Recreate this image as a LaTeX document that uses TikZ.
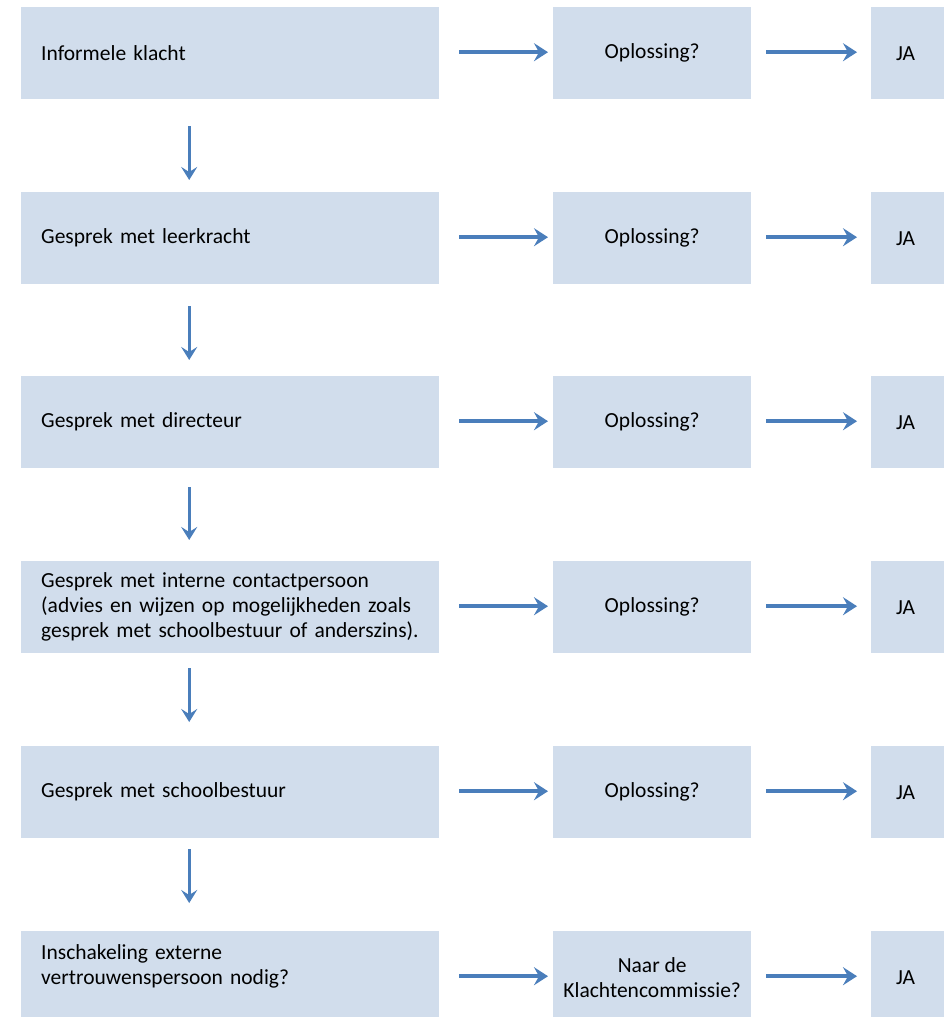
\documentclass[tikz,border=0pt]{standalone}
\usepackage{fontspec}
\setmainfont{Carlito}
\usetikzlibrary{arrows.meta}
\definecolor{boxfill}{RGB}{209,221,236}
\definecolor{arrowblue}{RGB}{74,126,187}
\definecolor{arrowshade}{RGB}{200,205,212}
\begin{document}
\begin{tikzpicture}[x=1pt,y=-1pt,
  every node/.style={font=\fontsize{21.5}{25}\selectfont, text=black},
  leftbox/.style={fill=boxfill, draw=none, anchor=north west, minimum height=92pt,
    text width=378pt, inner xsep=20pt, inner ysep=0pt, align=left},
  midbox/.style={fill=boxfill, draw=none, anchor=north west, minimum height=92pt,
    minimum width=198pt, inner sep=0pt, align=center},
  jabox/.style={fill=boxfill, draw=none, anchor=north west, minimum height=92pt,
    text width=150pt, inner xsep=25pt, inner ysep=0pt, align=left},
  flowarrow/.style={draw=arrowblue, line width=4.2pt,
    -{Stealth[length=14pt, width=18pt, inset=5pt]}},
  downarrow/.style={draw=arrowblue, line width=3.2pt,
    -{Stealth[length=13pt, width=16pt, inset=5pt]}}
]
\useasboundingbox (0,0) rectangle (944,1017);
\clip (0,0) rectangle (944,1017);

% left boxes
\node[leftbox] (L1) at (21,7) {Informele klacht};
\node[leftbox] (L2) at (21,192) {Gesprek met leerkracht};
\node[leftbox] (L3) at (21,376) {Gesprek met directeur};
\node[leftbox] (L4) at (21,561) {Gesprek met interne contactpersoon\\(advies en wijzen op mogelijkheden zoals\\gesprek met schoolbestuur of anderszins).};
\node[leftbox] (L5) at (21,746) {Gesprek met schoolbestuur};
\node[leftbox] (L6) at (21,931) {Inschakeling externe\\vertrouwenspersoon nodig?\\\mbox{}};

% middle boxes
\node[midbox] (M1) at (553,7) {Oplossing?};
\node[midbox] (M2) at (553,192) {Oplossing?};
\node[midbox] (M3) at (553,376) {Oplossing?};
\node[midbox] (M4) at (553,561) {Oplossing?};
\node[midbox] (M5) at (553,746) {Oplossing?};
\node[midbox] (M6) at (553,931) {Naar de\\Klachtencommissie?};

% right boxes
\node[jabox] (R1) at (871,7) {JA};
\node[jabox] (R2) at (871,192) {JA};
\node[jabox] (R3) at (871,376) {JA};
\node[jabox] (R4) at (871,561) {JA};
\node[jabox] (R5) at (871,746) {JA};
\node[jabox] (R6) at (871,931) {JA};

% horizontal arrows
\foreach \i in {1,...,6}{
  \draw[flowarrow, shorten <=20pt, shorten >=5pt] ([yshift=1pt]L\i.east) -- ([yshift=1pt]M\i.west);
  \draw[flowarrow, shorten <=15pt, shorten >=14pt] ([yshift=1pt]M\i.east) -- ([yshift=1pt]R\i.west);
}

% vertical arrows
\draw[downarrow, shorten <=27pt, shorten >=12pt] ([xshift=-41pt]L1.south) -- ([xshift=-41pt]L2.north);
\draw[downarrow, shorten <=22pt, shorten >=16pt] ([xshift=-41pt]L2.south) -- ([xshift=-41pt]L3.north);
\draw[downarrow, shorten <=19pt, shorten >=21pt] ([xshift=-41pt]L3.south) -- ([xshift=-41pt]L4.north);
\draw[downarrow, shorten <=15pt, shorten >=24pt] ([xshift=-41pt]L4.south) -- ([xshift=-41pt]L5.north);
\draw[downarrow, shorten <=11pt, shorten >=28pt] ([xshift=-41pt]L5.south) -- ([xshift=-41pt]L6.north);
\end{tikzpicture}
\end{document}
